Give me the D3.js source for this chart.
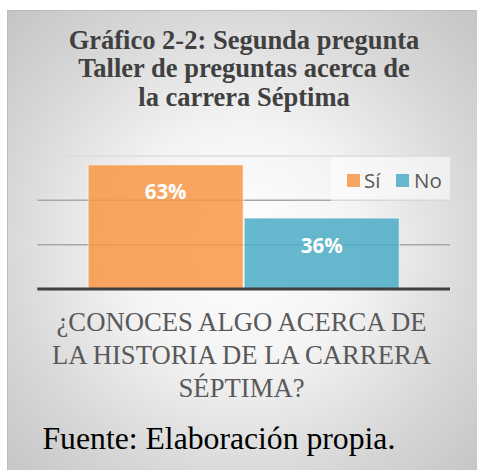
<!DOCTYPE html>
<html>
<head>
<meta charset="utf-8">
<script src="https://cdn.jsdelivr.net/npm/d3@7"></script>
<style>
  html, body { margin: 0; padding: 0; background: #ffffff; }
  svg { display: block; }
</style>
</head>
<body>
<svg id="chart" width="477" height="470"></svg>
<script>
// ---- data ----
const titleLines = ["Gráfico 2-2: Segunda pregunta", "Taller de preguntas acerca de", "la carrera Séptima"];
const categories = ["¿CONOCES ALGO ACERCA DE LA HISTORIA DE LA CARRERA SÉPTIMA?"];
const categoryLines = ["¿CONOCES ALGO ACERCA DE", "LA HISTORIA DE LA CARRERA", "SÉPTIMA?"];
const seriesNames = ["Sí", "No"];
const seriesValues = [14, 8];          // responses (axis max 15)
const seriesLabels = ["63%", "36%"];
const seriesColors = ["#F79646", "#4BACC6"];
const yTicks = [0, 5, 10, 15];
const sourceText = "Fuente: Elaboración propia.";

// ---- drawing ----
const svg = d3.select("#chart");
const defs = svg.append("defs");
const grad = defs.append("radialGradient").attr("id", "bg")
  .attr("gradientUnits", "userSpaceOnUse")
  .attr("cx", 242).attr("cy", 245).attr("r", 335);
grad.append("stop").attr("offset", "0").attr("stop-color", "#ffffff");
grad.append("stop").attr("offset", "0.35").attr("stop-color", "#f4f4f4");
grad.append("stop").attr("offset", "0.7").attr("stop-color", "#d8d8d8");
grad.append("stop").attr("offset", "1").attr("stop-color", "#c4c4c4");

svg.append("rect").attr("x", 7.5).attr("y", 10.5).attr("width", 475).attr("height", 470)
  .attr("fill", "url(#bg)").attr("stroke", "#bdbdbd").attr("stroke-width", 1);

// title
svg.append("g").selectAll("text").data(titleLines).join("text")
  .attr("x", 244).attr("y", (d, i) => 48.5 + i * 28.5)
  .attr("text-anchor", "middle")
  .attr("font-family", "'Liberation Serif', 'Times New Roman', serif")
  .attr("font-weight", "bold").attr("font-size", 26.5)
  .attr("fill", "#404040").text(d => d);

const plotLeft = 37.3, plotRight = 450, plotBottom = 289, plotTop = 156;
const x = d3.scaleBand().domain(categories).range([plotLeft, plotRight])
  .paddingInner(0).paddingOuter(0.1635);
const xs = d3.scaleBand().domain(seriesNames).range([0, x.bandwidth()]).paddingInner(0.0065);
const y = d3.scaleLinear().domain([0, 15]).range([plotBottom, plotTop]);

// gridlines
svg.append("g").selectAll("line").data(yTicks.filter(t => t > 0)).join("line")
  .attr("x1", plotLeft).attr("x2", plotRight)
  .attr("y1", d => y(d)).attr("y2", d => y(d))
  .attr("stroke", d => d === 15 ? "#dcdcdc" : "#a8a8a8")
  .attr("stroke-width", 1.5);

// legend box
const legend = svg.append("g");
legend.append("rect").attr("x", 331).attr("y", 157).attr("width", 119).attr("height", 44)
  .attr("fill", "#ffffff").attr("fill-opacity", 0.55);

// bars
const data = seriesNames.map((s, i) => ({ name: s, value: seriesValues[i], label: seriesLabels[i], color: seriesColors[i] }));
const bars = svg.append("g");
bars.selectAll("rect").data(data).join("rect")
  .attr("x", d => x(categories[0]) + xs(d.name))
  .attr("y", d => y(d.value))
  .attr("width", xs.bandwidth())
  .attr("height", d => y(0) - y(d.value))
  .attr("fill", d => d.color).attr("fill-opacity", 0.85)
  .attr("stroke", "#ffffff").attr("stroke-opacity", 0.6).attr("stroke-width", 1);

bars.selectAll("text").data(data).join("text")
  .attr("x", d => x(categories[0]) + xs(d.name) + xs.bandwidth() / 2)
  .attr("y", d => y(d.value) + 34.5)
  .attr("text-anchor", "middle")
  .attr("font-family", "'Open Sans', 'Noto Sans', sans-serif")
  .attr("font-weight", "bold").attr("font-size", 20.5)
  .attr("fill", "#ffffff").text(d => d.label);

// baseline axis
const xAxis = d3.axisBottom(x).tickSize(0).tickFormat("");
const axisG = svg.append("g").attr("transform", `translate(0,${y(0)})`).call(xAxis);
axisG.select(".domain").attr("stroke", "#404040").attr("stroke-width", 3)
  .attr("d", `M${plotLeft},0H${plotRight}`);

// legend items
const legendX = [347, 396], legendTextX = [364, 414];
data.forEach((d, i) => {
  legend.append("rect").attr("x", legendX[i]).attr("y", 174).attr("width", 13).attr("height", 13)
    .attr("fill", d.color).attr("fill-opacity", 0.85);
  legend.append("text").attr("x", legendTextX[i]).attr("y", 187.8)
    .attr("font-family", "'Open Sans', 'Noto Sans', sans-serif")
    .attr("font-size", 20.5).attr("fill", "#595959").text(d.name);
});

// category (axis title)
svg.append("g").selectAll("text").data(categoryLines).join("text")
  .attr("x", 241.5).attr("y", (d, i) => 330.5 + i * 33.3)
  .attr("text-anchor", "middle")
  .attr("font-family", "'Liberation Serif', 'Times New Roman', serif")
  .attr("font-size", 26.7).attr("fill", "#595959").text(d => d);

// source
svg.append("text").attr("x", 42.5).attr("y", 448.5)
  .attr("font-family", "'Liberation Serif', 'Times New Roman', serif")
  .attr("font-size", 31.7).attr("fill", "#000000").text(sourceText);
</script>
</body>
</html>
